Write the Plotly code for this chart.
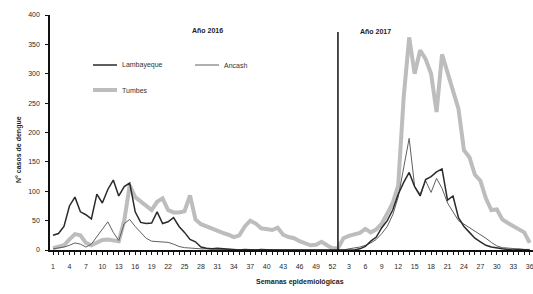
import plotly.graph_objects as go

weeks_2016 = list(range(1, 53))
weeks_2017 = list(range(1, 37))

lambayeque_2016 = [25, 28, 40, 75, 90, 65, 60, 53, 95, 80, 103, 119, 92, 108, 114, 65,
                   47, 45, 46, 65, 45, 48, 55, 40, 30, 18, 14, 5, 3, 2, 3, 2, 1, 1, 0, 1,
                   0, 0, 1, 0, 0, 0, 0, 0, 0, 0, 0, 0, 0, 0, 0, 0]
ancash_2016 = [2, 3, 5, 8, 12, 10, 5, 10, 22, 35, 48, 30, 16, 45, 52, 40,
               30, 20, 15, 14, 14, 13, 10, 6, 4, 3, 3, 2, 2, 1, 1, 1, 1, 1, 1, 1,
               1, 1, 1, 1, 1, 1, 1, 1, 1, 1, 1, 1, 1, 1, 1, 1]
tumbes_2016 = [3, 5, 8, 18, 27, 25, 12, 8, 12, 17, 18, 16, 15, 50, 110, 90,
               82, 75, 68, 82, 88, 68, 64, 64, 66, 93, 52, 44, 40, 36, 32, 29, 26, 22, 25, 40,
               50, 45, 37, 35, 34, 38, 26, 22, 20, 15, 11, 8, 9, 14, 8, 3]

lambayeque_2017 = [0, 0, 0, 0, 2, 6, 15, 22, 38, 50, 68, 95, 115, 132, 108, 92,
                   120, 125, 133, 138, 85, 92, 55, 40, 30, 20, 14, 8, 5, 3, 2, 1, 0, 1, 0, 0]
ancash_2017 = [0, 0, 2, 3, 5, 8, 12, 18, 28, 40, 60, 90, 140, 190, 108, 95,
               118, 98, 122, 105, 80, 65, 50, 44, 38, 32, 27, 20, 13, 7, 4, 3, 2, 2, 1, 1]
tumbes_2017 = [3, 20, 24, 27, 29, 36, 30, 35, 45, 62, 80, 110, 260, 362, 300, 340,
               325, 300, 235, 333, 300, 272, 240, 170, 158, 128, 118, 88, 68, 69, 52, 46, 40, 36, 30, 12]

y_ticks = [0, 50, 100, 150, 200, 250, 300, 350, 400]

week_labels = weeks_2016 + weeks_2017
positions = list(range(len(week_labels)))
tick_text = [str(w) if i % 3 == 0 else "" for i, w in enumerate(week_labels)]

lamb = lambayeque_2016 + lambayeque_2017
anc = ancash_2016 + ancash_2017
tum = tumbes_2016 + tumbes_2017

FONT = "Liberation Sans"

fig = go.Figure()
fig.add_trace(go.Scatter(x=positions, y=tum, mode="lines", name="Tumbes",
                         line=dict(color="#bdbdbd", width=4), cliponaxis=False))
fig.add_trace(go.Scatter(x=positions, y=anc, mode="lines", name="Ancash",
                         line=dict(color="#606060", width=1), cliponaxis=False))
fig.add_trace(go.Scatter(x=positions, y=lamb, mode="lines", name="Lambayeque",
                         line=dict(color="#2a2a2a", width=1.5), cliponaxis=False))

sep_x = len(weeks_2016)
fig.add_shape(type="line", x0=sep_x, x1=sep_x, y0=0, y1=371, xref="x", yref="y",
              line=dict(color="#111111", width=1.5))

W, H = 533, 294
L, R, T, B = 50, 0, 15, 44
pw, ph = W - L - R, H - T - B


def px(xp):
    return (xp - L) / pw


def py(yp):
    return (H - B - yp) / ph


# legend drawn manually
legend_items = [("Lambayeque", 93, 65, "#2a2a2a", 1.5),
                ("Ancash", 195, 65, "#606060", 1),
                ("Tumbes", 93, 90, "#bdbdbd", 4)]
for name, x0, y0, col, wd in legend_items:
    fig.add_shape(type="line", xref="paper", yref="paper",
                  x0=px(x0), x1=px(x0 + 24), y0=py(y0), y1=py(y0),
                  line=dict(color=col, width=wd))
    fig.add_annotation(text=name, xref="paper", yref="paper", x=px(x0 + 27), y=py(y0),
                       xanchor="left", yanchor="middle", showarrow=False,
                       font=dict(size=7, color="#333333", family=FONT))

fig.add_annotation(text="<b>Año 2016</b>", xref="paper", yref="paper", x=px(190), y=py(25),
                   showarrow=False, font=dict(size=7, color="#222222", family=FONT))
fig.add_annotation(text="<b>Año 2017</b>", xref="paper", yref="paper", x=px(393), y=py(26),
                   showarrow=False, font=dict(size=7, color="#222222", family=FONT))
fig.add_annotation(text="<b>Semanas epidemiológicas</b>", xref="paper", yref="paper",
                   x=px(300), y=py(288), showarrow=False,
                   font=dict(size=7, color="#222222", family=FONT))
fig.add_annotation(text="<b>N° casos de dengue</b>", xref="paper", yref="paper",
                   x=px(13), y=py(150), textangle=-90, showarrow=False,
                   font=dict(size=7, color="#222222", family=FONT))

fig.update_layout(
    width=W, height=H,
    margin=dict(l=L, r=R, t=T, b=B),
    paper_bgcolor="white", plot_bgcolor="white",
    showlegend=False,
    font=dict(family=FONT, size=7, color="#2a2a2a"),
)
fig.update_xaxes(range=[-0.55, 87.6], tickmode="array", tickvals=positions, ticktext=tick_text,
                 showline=True, linecolor="#111111", linewidth=1.5, ticks="outside",
                 ticklen=3, tickcolor="#111111", tickwidth=1, showgrid=False, zeroline=False,
                 ticklabelstandoff=6, tickangle=0, ticklabeloverflow="allow")
fig.update_yaxes(range=[0, 400], tickvals=y_ticks, showline=True, linecolor="#111111",
                 linewidth=1.5, ticks="outside", ticklen=3, tickcolor="#111111",
                 showgrid=False, zeroline=False, ticklabelstandoff=4)

fig.write_html("out.html", config={"displayModeBar": False},
               post_script="document.body.style.margin='0';document.body.style.overflow='hidden';")
